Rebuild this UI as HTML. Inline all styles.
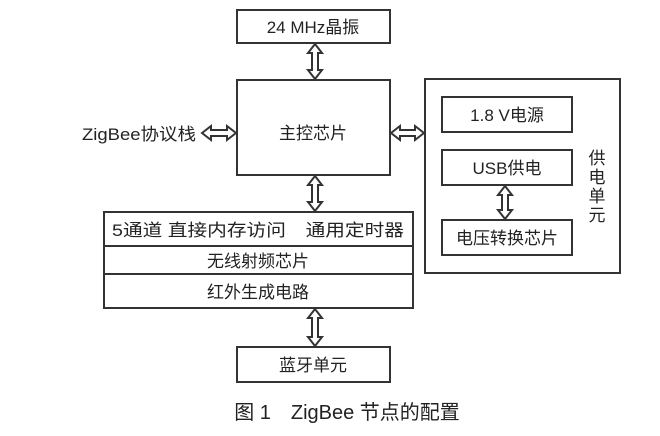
<!DOCTYPE html>
<html><head><meta charset="utf-8"><style>
body{margin:0;background:#fff;}
svg text{font-family:"Liberation Sans","Noto Sans CJK SC",sans-serif;fill:#222;}
</style></head><body>
<svg width="660" height="431" viewBox="0 0 660 431" xmlns="http://www.w3.org/2000/svg">
<g fill="#fff" stroke="#333" stroke-width="2">
<rect x="237" y="10" width="153" height="33"/>
<rect x="237" y="80" width="153" height="95"/>
<rect x="425" y="79" width="195" height="194"/>
<rect x="442" y="97" width="130" height="35"/>
<rect x="442" y="150" width="130" height="35"/>
<rect x="442" y="220" width="130" height="35"/>
<rect x="104" y="212" width="309" height="96"/>
<line x1="104" y1="246" x2="413" y2="246"/>
<line x1="104" y1="274" x2="413" y2="274"/>
<rect x="237" y="347" width="153" height="35"/>
<polygon points="315,44 322,53 318,53 318,70 322,70 315,79 308,70 312,70 312,53 308,53"/>
<polygon points="315,176 322,185 318,185 318,202 322,202 315,211 308,202 312,202 312,185 308,185"/>
<polygon points="315,309 322,318 318,318 318,337 322,337 315,346 308,337 312,337 312,318 308,318"/>
<polygon points="505,186 512,195 508,195 508,210 512,210 505,219 498,210 502,210 502,195 498,195"/>
<polygon points="202,133 211,126 211,130 227,130 227,126 236,133 227,140 227,136 211,136 211,140"/>
<polygon points="391,133 400,126 400,130 415,130 415,126 424,133 415,140 415,136 400,136 400,140"/>
</g>
<g font-size="17" text-anchor="middle">
<text x="313" y="33">24 MHz晶振</text>
<text x="313" y="139">主控芯片</text>
<text x="507" y="121">1.8 V电源</text>
<text x="507" y="174">USB供电</text>
<text x="507" y="244">电压转换芯片</text>
<text x="258" y="236" textLength="292" lengthAdjust="spacingAndGlyphs">5通道 直接内存访问　通用定时器</text>
<text x="258" y="267">无线射频芯片</text>
<text x="258" y="298">红外生成电路</text>
<text x="313" y="371">蓝牙单元</text>
<text x="597" y="164">供</text>
<text x="597" y="183">电</text>
<text x="597" y="202">单</text>
<text x="597" y="221">元</text>
</g>
<text x="82" y="140" font-size="17" textLength="114" lengthAdjust="spacingAndGlyphs">ZigBee协议栈</text>
<text x="347" y="419" font-size="20" text-anchor="middle">图 1　ZigBee 节点的配置</text>
</svg>
</body></html>
